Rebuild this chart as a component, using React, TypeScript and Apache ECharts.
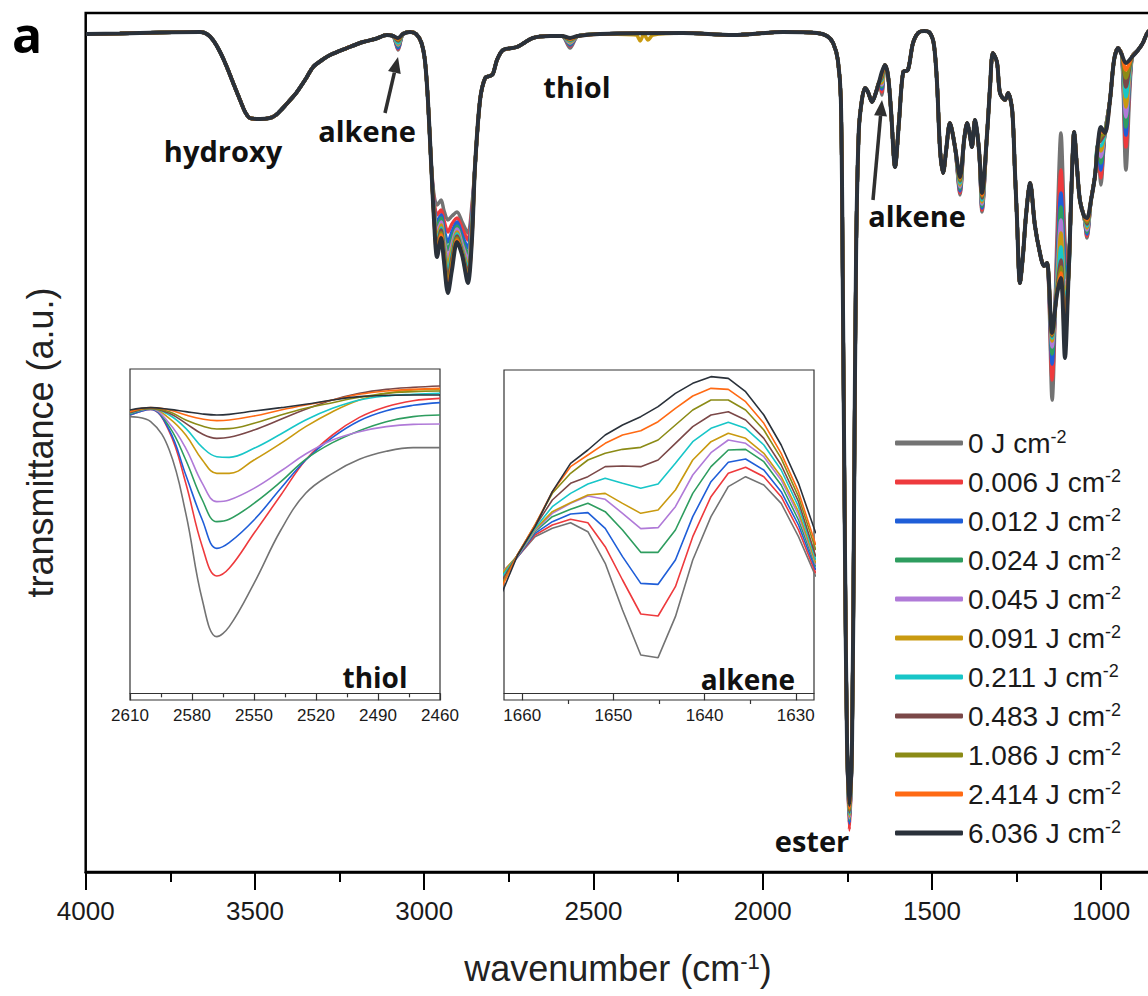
import React, { useEffect, useRef } from "react";
import * as echarts from "echarts";

// ---------- series identity ----------
const DOSES = ["0", "0.006", "0.012", "0.024", "0.045", "0.091", "0.211", "0.483", "1.086", "2.414", "6.036"];
const COLORS = ["#737373", "#ee3a3d", "#1f5ed8", "#2e9d5f", "#b07ad8", "#c99a10", "#18c6c8", "#7b4848", "#8b8b16", "#ff6a14", "#2a313a"];

// ---------- main spectrum ----------
// shared trace [wavenumber, transmittance] where all doses overlap
const MAIN_BASE: number[][] = [
  [3999, 96.6], [3899, 96.65], [3781, 96.75], [3662, 96.8], [3642, 96.6], [3624, 96.0], [3603, 94.8], [3583, 93.3],
  [3562, 91.5], [3544, 90.0], [3529, 88.8], [3515, 88.2], [3485, 88.1], [3456, 88.2], [3438, 88.5], [3420, 89.1],
  [3396, 90.0], [3376, 90.8], [3352, 92.0], [3328, 93.3], [3302, 94.0], [3278, 94.5], [3228, 95.2], [3181, 95.8],
  [3145, 96.1], [3110, 96.5], [3092, 96.4], [3063, 96.6], [3042, 96.8], [3024, 96.6], [3009, 95.8], [2998, 94.0],
  [2989, 90.0], [2980, 84.0],
  [2850, 83.3], [2835, 90.0], [2820, 92.2], [2806, 92.4], [2797, 92.6], [2785, 94.0], [2767, 95.0], [2726, 95.3],
  [2679, 96.2], [2628, 96.4], [2593, 96.4], [2546, 96.4], [2481, 96.6], [2235, 96.7], [2088, 96.5], [1940, 96.8],
  [1840, 96.7], [1810, 96.4], [1792, 95.7], [1778, 94.0], [1769, 90.0], [1763, 70.0], [1757, 45.0], [1751, 26.0],
  [1736, 26.0], [1730, 50.0], [1724, 75.0], [1716, 87.0], [1707, 90.0], [1698, 91.2], [1689, 90.8], [1677, 89.8],
  [1665, 90.8], [1656, 91.8], [1639, 93.5], [1630, 92.5], [1621, 89.0], [1609, 83.3], [1597, 88.0], [1585, 92.8],
  [1571, 93.0], [1556, 95.7], [1541, 96.7], [1523, 96.9], [1506, 96.7], [1494, 95.5], [1485, 91.7], [1476, 85.0],
  [1467, 82.7], [1458, 85.0], [1447, 87.7], [1432, 85.3], [1405, 86.0], [1396, 87.7], [1388, 86.5], [1382, 85.3],
  [1373, 88.0], [1361, 85.0], [1337, 86.7], [1328, 91.5], [1320, 94.7], [1308, 93.8], [1299, 90.7], [1284, 90.0],
  [1275, 90.7], [1263, 89.0], [1255, 83.0], [1249, 78.3], [1240, 71.7], [1231, 74.5], [1222, 78.5], [1210, 81.7],
  [1196, 77.5], [1181, 74.7], [1169, 73.4], [1160, 73.7], [1092, 76.7], [1086, 83.0], [1080, 86.8], [1072, 83.5],
  [1063, 80.0], [1051, 78.4], [1030, 80.0], [1018, 82.5], [1010, 85.5], [989, 86.7], [974, 90.0], [962, 94.0],
  [950, 95.2], [939, 94.5], [909, 94.3], [891, 95.0], [877, 95.7], [862, 96.8], [841, 97.2],
];

// dose-dependent bands: [wavenumber, T(0), T(0.006), ... T(6.036)]
const MAIN_BANDS: number[][] = [
  [3077, 95.0, 95.1, 95.2, 95.4, 95.5, 95.6, 95.7, 95.9, 96.0, 96.1, 96.2],
  [2971, 80.5, 80.0, 79.5, 79.2, 79.0, 78.8, 78.6, 78.4, 78.3, 78.2, 78.0],
  [2962, 79.5, 78.5, 77.8, 77.2, 76.7, 76.2, 75.8, 75.4, 75.0, 74.7, 74.3],
  [2950, 80.0, 79.0, 78.5, 78.2, 77.8, 77.5, 77.2, 77.0, 76.7, 76.5, 76.2],
  [2942, 79.0, 78.0, 77.2, 76.6, 76.1, 75.6, 75.2, 74.9, 74.6, 74.3, 74.0],
  [2930, 78.0, 76.8, 75.8, 75.0, 74.2, 73.5, 72.8, 72.2, 71.6, 71.1, 70.7],
  [2918, 78.4, 77.6, 76.8, 76.2, 75.6, 75.1, 74.6, 74.2, 73.8, 73.4, 73.0],
  [2903, 78.8, 78.2, 77.8, 77.4, 77.1, 76.8, 76.6, 76.4, 76.2, 76.0, 75.8],
  [2888, 77.8, 77.2, 76.5, 76.0, 75.6, 75.2, 75.0, 74.8, 74.7, 74.6, 74.5],
  [2871, 76.7, 76.0, 75.2, 74.5, 74.0, 73.5, 73.1, 72.7, 72.3, 72.0, 71.7],
  [2859, 79.5, 79.0, 78.5, 78.0, 77.6, 77.2, 76.9, 76.6, 76.4, 76.2, 76.0],
  [2569, 95.2, 95.4, 95.5, 95.6, 95.7, 95.8, 95.9, 96.0, 96.05, 96.1, 96.2],
  [1744, 17.8, 17.0, 17.7, 18.0, 18.2, 18.4, 18.6, 18.8, 19.0, 19.2, 19.5],
  [1648, 90.5, 90.8, 91.1, 91.3, 91.5, 91.7, 92.0, 92.2, 92.4, 92.6, 92.8],
  [1417, 80.5, 80.7, 80.9, 81.1, 81.3, 81.5, 81.7, 81.9, 82.0, 82.2, 82.3],
  [1352, 78.8, 79.0, 79.2, 79.4, 79.6, 79.8, 80.0, 80.2, 80.4, 80.5, 80.7],
  [1145, 60.0, 62.0, 63.6, 64.6, 65.3, 65.9, 66.2, 66.4, 66.5, 66.6, 66.7],
  [1131, 76.0, 74.5, 73.4, 72.6, 72.0, 71.5, 71.2, 71.0, 70.8, 70.6, 70.5],
  [1119, 86.7, 83.0, 80.7, 79.3, 78.0, 76.7, 75.3, 74.0, 73.3, 72.7, 72.2],
  [1107, 76.0, 74.5, 73.5, 72.5, 71.5, 70.5, 69.5, 68.2, 67.0, 65.7, 64.2],
  [1098, 72.8, 72.5, 72.3, 72.1, 71.9, 71.7, 71.5, 71.4, 71.3, 71.2, 71.0],
  [1042, 76.2, 76.4, 76.6, 76.8, 77.0, 77.2, 77.4, 77.6, 77.8, 78.0, 78.2],
  [1001, 81.5, 82.2, 83.0, 83.7, 84.3, 84.9, 85.4, 86.0, 86.4, 86.9, 87.3],
  [927, 83.0, 85.3, 86.5, 87.3, 88.3, 89.3, 90.3, 91.3, 92.2, 93.0, 93.7],
];

// CO2 artefact seen only in the 0.091 J cm-2 trace
const CO2_0091: number[][] = [[2374, 96.5], [2362, 95.9], [2351, 96.6], [2339, 96.0], [2324, 96.5]];
const CO2_SERIES = 5;

// ---------- thiol inset ----------
const THIOL_WN = [2610, 2600, 2591, 2583, 2575, 2568, 2562, 2550, 2537, 2525, 2512, 2499, 2486, 2473, 2460];
const THIOL_T: number[][] = [
  [83.0, 81.5, 73.0, 54.0, 28.0, 17.0, 20.0, 33.0, 49.0, 60.0, 66.0, 70.2, 72.6, 73.7, 73.7],
  [83.5, 85.2, 78.5, 63.0, 44.0, 35.2, 37.5, 48.0, 59.5, 70.0, 77.5, 82.8, 86.0, 87.8, 88.5],
  [83.5, 85.2, 79.0, 65.5, 52.0, 43.5, 45.2, 52.0, 61.5, 70.0, 76.8, 81.8, 84.8, 86.4, 87.2],
  [83.8, 85.4, 80.0, 70.0, 58.0, 51.5, 52.2, 57.0, 63.5, 70.2, 75.2, 78.8, 81.5, 83.0, 83.5],
  [84.0, 85.4, 81.0, 73.5, 63.0, 57.5, 58.0, 61.5, 66.7, 71.8, 76.0, 78.5, 80.0, 80.7, 80.8],
  [84.0, 85.5, 82.5, 77.5, 70.0, 66.0, 66.0, 70.0, 75.0, 80.0, 84.5, 88.0, 90.0, 91.0, 91.2],
  [84.0, 85.5, 83.5, 79.5, 73.8, 71.0, 70.8, 73.5, 77.8, 82.0, 85.5, 88.0, 89.2, 89.7, 90.0],
  [84.2, 85.5, 84.0, 81.0, 77.8, 76.5, 76.8, 79.0, 82.2, 85.2, 88.0, 90.0, 91.2, 91.8, 92.2],
  [84.5, 85.5, 84.5, 82.0, 80.2, 79.3, 79.4, 81.0, 83.5, 85.5, 87.2, 88.8, 90.0, 90.5, 90.7],
  [84.5, 85.7, 85.0, 83.5, 82.3, 81.8, 82.0, 83.2, 85.0, 86.5, 88.0, 89.7, 90.7, 91.2, 91.5],
  [85.0, 85.7, 85.2, 84.5, 83.8, 83.5, 83.7, 84.7, 85.7, 86.7, 88.0, 89.0, 89.4, 89.5, 89.5],
];

// ---------- alkene inset ----------
const ALKENE_WN = [1662.4, 1660.5, 1658.6, 1656.7, 1654.7, 1652.8, 1650.9, 1649.0, 1647.0, 1645.1, 1643.2, 1641.3, 1639.3, 1637.4, 1635.5, 1633.5, 1631.6, 1629.7, 1627.8];
const ALKENE_T: number[][] = [
  [34.5, 41.0, 47.0, 49.5, 51.2, 48.5, 39.0, 25.0, 11.5, 10.7, 23.0, 40.0, 53.0, 62.0, 65.0, 62.5, 57.0, 47.0, 35.0],
  [35.0, 41.0, 47.5, 50.5, 52.2, 51.2, 44.0, 34.0, 23.8, 23.2, 32.0, 47.0, 59.0, 66.0, 67.8, 65.0, 59.0, 49.0, 36.0],
  [35.0, 41.0, 48.0, 51.5, 53.8, 54.2, 49.5, 41.0, 33.0, 32.7, 40.0, 53.0, 63.5, 69.3, 70.3, 67.0, 60.5, 50.5, 37.0],
  [35.2, 41.2, 48.5, 53.0, 55.2, 57.0, 54.5, 49.0, 42.3, 42.3, 49.0, 60.0, 68.0, 73.0, 73.2, 69.5, 62.5, 52.0, 38.0],
  [35.8, 41.2, 48.8, 54.0, 57.0, 59.2, 58.2, 54.0, 49.4, 49.7, 56.0, 65.5, 72.2, 76.0, 75.0, 71.0, 64.0, 53.5, 38.5],
  [35.5, 41.4, 49.2, 54.5, 57.2, 59.5, 60.0, 57.0, 54.0, 55.0, 61.0, 70.0, 75.5, 78.0, 76.5, 72.0, 65.0, 54.5, 39.0],
  [34.3, 41.5, 49.5, 56.0, 60.0, 62.8, 64.5, 63.0, 61.5, 62.8, 69.0, 75.5, 79.5, 81.3, 79.5, 74.5, 67.0, 56.0, 40.0],
  [33.0, 41.7, 50.0, 58.0, 63.0, 65.0, 68.0, 68.2, 68.0, 70.0, 75.0, 80.0, 83.5, 84.5, 82.0, 76.5, 68.5, 57.5, 41.0],
  [31.7, 41.7, 50.5, 60.0, 66.0, 70.0, 72.0, 73.2, 73.8, 76.0, 80.5, 85.0, 88.0, 88.0, 85.0, 79.0, 70.5, 59.0, 43.0],
  [31.0, 41.7, 50.5, 60.5, 68.0, 71.5, 75.0, 77.5, 78.8, 81.5, 85.5, 89.2, 91.5, 91.2, 87.5, 81.0, 72.0, 60.5, 44.5],
  [29.0, 41.5, 50.0, 60.5, 69.0, 73.0, 77.5, 80.5, 83.0, 86.0, 90.0, 93.0, 95.0, 94.5, 90.5, 83.5, 74.5, 63.0, 48.0],
];
const ALKENE_TICKS = [1630, 1640, 1650, 1660];
const ALKENE_MINOR_TICKS = [1635, 1645, 1655];

const FONT = "'Liberation Sans', Arial, Helvetica, sans-serif";
const BOLD = "'Open Sans', 'Noto Sans', sans-serif";
const INK = "#1a1a1a";

const plain = (v: number) => String(v);

function mainData(i: number): number[][] {
  const pts = MAIN_BASE.map((p) => [p[0], p[1]]);
  MAIN_BANDS.forEach((r) => pts.push([r[0], r[i + 1]]));
  if (i === CO2_SERIES) CO2_0091.forEach((p) => pts.push([p[0], p[1]]));
  pts.sort((a, b) => b[0] - a[0]);
  return pts;
}

function label(text: string, x: number, y: number, size = 28) {
  return {
    type: "text",
    x,
    y,
    z: 100,
    style: { text, fontSize: size, fontFamily: BOLD, fontWeight: "bold", fill: "#111", align: "center", verticalAlign: "middle" },
  };
}

function arrow(x1: number, y1: number, tx: number, ty: number) {
  const dx = tx - x1;
  const dy = ty - y1;
  const len = Math.sqrt(dx * dx + dy * dy);
  const ux = dx / len;
  const uy = dy / len;
  const hl = 16;
  const hw = 6.5;
  const bx = tx - ux * hl;
  const by = ty - uy * hl;
  return [
    { type: "line", z: 100, shape: { x1, y1, x2: bx, y2: by }, style: { stroke: "#2f2f2f", lineWidth: 3.5 } },
    {
      type: "polygon",
      z: 100,
      shape: { points: [[tx, ty], [bx - uy * hw, by + ux * hw], [bx + uy * hw, by - ux * hw]] },
      style: { fill: "#2f2f2f" },
    },
  ];
}

export default function App() {
  const ref = useRef<HTMLDivElement>(null);

  useEffect(() => {
    if (!ref.current) return;
    const chart = echarts.init(ref.current, undefined, { renderer: "svg" });

    const series: any[] = [];
    DOSES.forEach((d, i) => {
      series.push({
        type: "line",
        name: d,
        xAxisIndex: 0,
        yAxisIndex: 0,
        data: mainData(i),
        showSymbol: false,
        symbol: "none",
        smooth: 0.3,
        lineStyle: { color: COLORS[i], width: i === 10 ? 4 : 3.5 },
        itemStyle: { color: COLORS[i] },
      });
    });
    DOSES.forEach((d, i) => {
      series.push({
        type: "line",
        name: d,
        xAxisIndex: 1,
        yAxisIndex: 1,
        data: THIOL_WN.map((w, k) => [w, THIOL_T[i][k]]),
        showSymbol: false,
        symbol: "none",
        smooth: 0.4,
        lineStyle: { color: COLORS[i], width: 1.6 },
        itemStyle: { color: COLORS[i] },
      });
    });
    DOSES.forEach((d, i) => {
      series.push({
        type: "line",
        name: d,
        xAxisIndex: 2,
        yAxisIndex: 2,
        data: ALKENE_WN.map((w, k) => [w, ALKENE_T[i][k]]),
        showSymbol: false,
        symbol: "none",
        smooth: false,
        lineStyle: { color: COLORS[i], width: 1.6 },
        itemStyle: { color: COLORS[i] },
      });
    });

    const insetLabel = { fontSize: 17, fontFamily: FONT, color: INK, margin: 7, formatter: plain };

    const option: any = {
      animation: false,
      backgroundColor: "#fff",
      grid: [
        { left: 85.7, top: 13, width: 1184.75, height: 859, show: true, borderColor: "#000", borderWidth: 2.5 },
        { left: 130, top: 369, width: 310, height: 331, show: true, borderColor: "#333", borderWidth: 1.2, backgroundColor: "#fff" },
        { left: 504, top: 370, width: 310, height: 330, show: true, borderColor: "#333", borderWidth: 1.2, backgroundColor: "#fff" },
      ],
      xAxis: [
        {
          gridIndex: 0,
          type: "value",
          position: "bottom",
          min: 500,
          max: 4000,
          interval: 500,
          inverse: true,
          axisLine: { show: true, lineStyle: { color: "#000", width: 2.5 } },
          axisTick: { show: true, length: 18, lineStyle: { color: "#000", width: 2 } },
          minorTick: { show: true, splitNumber: 2, length: 10, lineStyle: { color: "#000", width: 2 } },
          splitLine: { show: false },
          axisLabel: { fontSize: 26, fontFamily: FONT, color: INK, margin: 26, formatter: plain, showMinLabel: false },
        },
        {
          gridIndex: 1,
          type: "value",
          position: "bottom",
          inverse: true,
          min: 2460,
          max: 2610,
          interval: 30,
          splitLine: { show: false },
          axisLine: { show: true, lineStyle: { color: "#333", width: 1.2 } },
          axisTick: { show: true, length: 7, lineStyle: { color: "#333", width: 1.2 } },
          minorTick: { show: true, splitNumber: 2, length: 4, lineStyle: { color: "#333", width: 1.2 } },
          axisLabel: insetLabel,
        },
        {
          gridIndex: 2,
          type: "value",
          position: "bottom",
          inverse: true,
          min: 1628,
          max: 1662,
          splitLine: { show: false },
          axisLine: { show: true, lineStyle: { color: "#333", width: 1.2 } },
          axisTick: { show: true, length: 7, customValues: ALKENE_TICKS, lineStyle: { color: "#333", width: 1.2 } },
          axisLabel: { ...insetLabel, customValues: ALKENE_TICKS },
        },
        {
          gridIndex: 2,
          type: "value",
          position: "bottom",
          offset: 0,
          inverse: true,
          min: 1628,
          max: 1662,
          splitLine: { show: false },
          axisLine: { show: false },
          axisLabel: { show: false },
          axisTick: { show: true, length: 4, customValues: ALKENE_MINOR_TICKS, lineStyle: { color: "#333", width: 1.2 } },
        },
      ],
      yAxis: [
        {
          gridIndex: 0,
          type: "value",
          min: 12.8,
          max: 98.7,
          axisLine: { show: false },
          axisTick: { show: false },
          axisLabel: { show: false },
          splitLine: { show: false },
          name: "transmittance (a.u.)",
          nameLocation: "middle",
          nameRotate: 90,
          nameGap: 27,
          nameTextStyle: { fontSize: 36, fontFamily: FONT, color: "#222" },
        },
        { gridIndex: 1, type: "value", min: -2, max: 97.3, show: false, splitLine: { show: false } },
        { gridIndex: 2, type: "value", min: -2, max: 97, show: false, splitLine: { show: false } },
      ],
      legend: {
        data: DOSES,
        orient: "vertical",
        left: 895,
        top: 428,
        padding: 0,
        itemWidth: 68,
        itemHeight: 5,
        itemGap: 9,
        icon: "roundRect",
        selectedMode: false,
        formatter: (n: string) => `${n} J cm{s|-2}`,
        textStyle: {
          fontSize: 28,
          fontFamily: FONT,
          color: INK,
          lineHeight: 30,
          rich: { s: { fontSize: 18, lineHeight: 12, verticalAlign: "top", fontFamily: FONT, color: INK } },
        },
      },
      graphic: [
        {
          type: "text",
          x: 27,
          y: 34,
          z: 100,
          style: {
            text: "a",
            fontSize: 50,
            lineHeight: 40,
            fontFamily: BOLD,
            fontWeight: "bold",
            fill: "#000",
            align: "center",
            verticalAlign: "middle",
          },
        },
        label("hydroxy", 223, 150, 29),
        label("alkene", 367, 130, 29),
        label("thiol", 577, 86, 29),
        label("alkene", 917, 215, 29),
        label("ester", 812, 840, 29),
        label("thiol", 375, 677),
        label("alkene", 748, 679),
        ...arrow(385, 113, 398, 57),
        ...arrow(873, 200, 882, 100),
        {
          type: "text",
          x: 618,
          y: 968,
          z: 100,
          style: {
            text: "wavenumber (cm{s|-1})",
            fontSize: 36,
            fontFamily: FONT,
            fill: "#222",
            align: "center",
            verticalAlign: "middle",
            rich: { s: { fontSize: 22, lineHeight: 14, verticalAlign: "top", fontFamily: FONT, fill: "#222" } },
          },
        },
      ],
      series,
    };

    chart.setOption(option);
    return () => chart.dispose();
  }, []);

  return (
    <div style={{ position: "fixed", left: 0, top: 0, width: 1148, height: 996, overflow: "hidden", background: "#fff" }}>
      <div ref={ref} style={{ width: 1300, height: 996 }} />
    </div>
  );
}
